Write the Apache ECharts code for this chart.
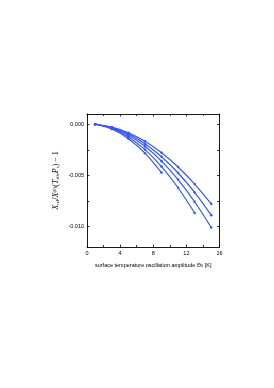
<!DOCTYPE html>
<html>
<head>
<meta charset="utf-8">
<script src="https://cdn.jsdelivr.net/npm/echarts@6/dist/echarts.min.js"></script>
<style>
html,body{margin:0;padding:0;background:#fff;}
#c{width:274px;height:388px;}
</style>
</head>
<body>
<div id="c"></div>
<script>
// Data
const xValues = [1, 3, 5, 7, 9, 11, 13, 15];
const curveA = [0, -0.00047, -0.00142, -0.00283, -0.00474];
const curveB = [0, -0.00041, -0.00124, -0.00248, -0.00414, -0.00621, -0.00868];
const curveC = [0, -0.00028, -0.00084, -0.00167, -0.00279, -0.00418, -0.00585, -0.00778];
const curveD = [0, -0.00032, -0.00095, -0.00191, -0.00318, -0.00477, -0.00667, -0.00889];
const curveE = [0, -0.00036, -0.00108, -0.00216, -0.00361, -0.00541, -0.00758, -0.01009];
const yTickLabels = [0, -0.005, -0.010];
const yTickAll = [0, -0.0025, -0.005, -0.0075, -0.010];

const lineColor = '#3456fc';
function mk(vals){ return vals.map((v,i)=>[xValues[i], v]); }
function series(vals){
  return {
    type:'line', data: mk(vals), smooth:0.3,
    symbol:'circle', symbolSize:2.6, showSymbol:true,
    lineStyle:{color:lineColor, width:1.2},
    itemStyle:{color:lineColor},
    emphasis:{disabled:true}, animation:false, z:3
  };
}
const chart = echarts.init(document.getElementById('c'), null, {renderer:'canvas'});
const axisFont = {fontFamily:'Liberation Sans, Arial, sans-serif', fontSize:5.5, color:'#000'};
const axLine = {onZero:false, lineStyle:{color:'#000', width:0.9}};
chart.setOption({
  animation:false,
  grid:{left:87, top:114, width:132.5, height:133, containLabel:false},
  xAxis:[{
    type:'value', min:0, max:16, interval:4,
    axisLine:axLine,
    axisTick:{inside:true, length:2.5, lineStyle:{color:'#000', width:0.8}},
    minorTick:{show:true, splitNumber:2, length:2, lineStyle:{color:'#000', width:0.8}},
    splitLine:{show:false}, minorSplitLine:{show:false},
    axisLabel:Object.assign({margin:3, formatter:v=>String(v)}, axisFont),
    name:'{a|surface temperature oscillation amplitude Θ}{s|0}{a| [K]}',
    nameLocation:'middle', nameGap:15,
    nameTextStyle:{rich:{
      a:{fontFamily:'Liberation Sans, Arial, sans-serif', fontSize:5.5, color:'#000'},
      s:{fontFamily:'Liberation Sans, Arial, sans-serif', fontSize:4, color:'#000', verticalAlign:'bottom', padding:[2,0,0,0]}
    }}
  },{
    type:'value', min:0, max:16, interval:4, position:'top',
    axisLine:axLine,
    axisTick:{inside:true, length:2.5, lineStyle:{color:'#000', width:0.8}},
    minorTick:{show:true, splitNumber:2, length:2, lineStyle:{color:'#000', width:0.8}},
    splitLine:{show:false}, minorSplitLine:{show:false}, axisLabel:{show:false}
  }],
  yAxis:[{
    type:'value', min:-0.012, max:0.001,
    axisLine:Object.assign({show:true}, axLine),
    axisTick:{show:true, inside:true, length:2.5, customValues:yTickAll, lineStyle:{color:'#000', width:0.8}},
    splitLine:{show:false},
    axisLabel:Object.assign({margin:3, customValues:yTickLabels, formatter:v=>v.toFixed(3)}, axisFont),
    name:'{i|X}{s|rel}{n|/}{i|X}{p|(0)}{n|(}{i|T}{s|s0}{n|,}{i|P}{s|s}{n|) − 1}',
    nameLocation:'middle', nameGap:27, nameRotate:90,
    nameTextStyle:{rich:{
      i:{fontFamily:'Liberation Serif, Times New Roman, serif', fontStyle:'italic', fontSize:8, color:'#000'},
      n:{fontFamily:'Liberation Serif, Times New Roman, serif', fontSize:8, color:'#000'},
      s:{fontFamily:'Liberation Serif, Times New Roman, serif', fontSize:5, color:'#000', verticalAlign:'bottom'},
      p:{fontFamily:'Liberation Serif, Times New Roman, serif', fontSize:5, color:'#000', verticalAlign:'top'}
    }}
  },{
    type:'value', min:-0.012, max:0.001, position:'right',
    axisLine:Object.assign({show:true}, axLine),
    axisTick:{show:true, inside:true, length:2.5, customValues:yTickAll, lineStyle:{color:'#000', width:0.8}},
    splitLine:{show:false}, axisLabel:{show:false}
  }],
  series:[series(curveA), series(curveB), series(curveC), series(curveD), series(curveE)]
});
</script>
</body>
</html>
